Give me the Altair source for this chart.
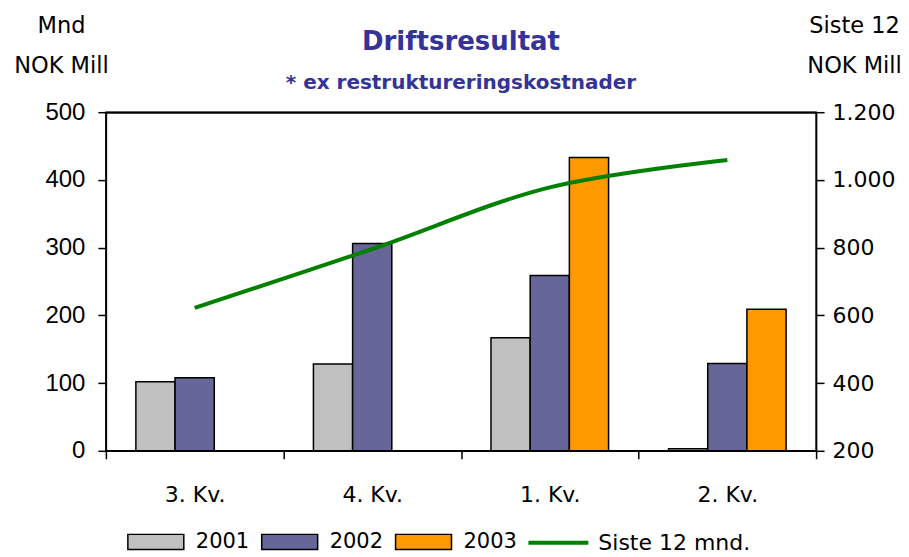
import altair as alt
import pandas as pd

quarters = ["3. Kv.", "4. Kv.", "1. Kv.", "2. Kv."]
years = ["2001", "2002", "2003"]
v2001 = [102, 128, 167, 3]
v2002 = [108, 306, 259, 129]
v2003 = [None, None, 433, 209]
siste12 = [622, 796, 978, 1059]
line_name = "Siste 12 mnd."
left_ticks = [0, 100, 200, 300, 400, 500]
right_ticks = [200, 400, 600, 800, 1000, 1200]
bar_colors = ["#C0C0C0", "#666699", "#FF9900"]
line_color = "#008000"
title_color = "#333399"
FONT = "DejaVu Sans"

rows = []
for yr, vals in zip(years, [v2001, v2002, v2003]):
    for q, v in zip(quarters, vals):
        if v is not None:
            rows.append({"Kvartal": q, "Aar": yr, "Verdi": v})
bars_df = pd.DataFrame(rows)
line_df = pd.DataFrame({"Kvartal": quarters, "Serie": [line_name] * len(quarters), "Verdi": siste12})

x_scale = alt.Scale(paddingInner=0, paddingOuter=0)

x_bottom = alt.X(
    "Kvartal:N",
    sort=quarters,
    scale=x_scale,
    axis=alt.Axis(
        title=None, labelAngle=0, tickBand="extent", tickSize=8, labelPadding=26,
        labelFont=FONT, labelFontSize=22, labelColor="black",
        domainColor="black", tickColor="black", domainWidth=1.5, tickWidth=1.5,
    ),
)

x_top = alt.X(
    "Kvartal:N",
    sort=quarters,
    scale=x_scale,
    axis=alt.Axis(
        orient="top", title=None, labels=False, ticks=False,
        domainColor="#000000", domainWidth=2, domainOpacity=1,
    ),
)

bars = alt.Chart(bars_df).mark_bar(stroke="black", strokeWidth=1.5, opacity=1).encode(
    x=x_bottom,
    xOffset=alt.XOffset("Aar:N", scale=alt.Scale(domain=years, paddingInner=0, paddingOuter=0.765)),
    y=alt.Y(
        "Verdi:Q",
        scale=alt.Scale(domain=[0, 500], nice=False),
        axis=alt.Axis(
            values=left_ticks, grid=False, title=["Mnd", "NOK Mill"], titleAngle=0,
            titleX=-45, titleY=-80, titleAlign="center", titleBaseline="alphabetic",
            titleLineHeight=40, titleFont=FONT, titleFontSize=22.5, titleFontWeight="normal",
            titleColor="black", labelFont="Liberation Sans", labelFontSize=24,
            labelColor="black", tickSize=8, labelPadding=13, domainColor="black",
            tickColor="black", domainWidth=1.5, tickWidth=1.5,
        ),
    ),
    fill=alt.Fill(
        "Aar:N",
        scale=alt.Scale(domain=years, range=bar_colors),
        legend=alt.Legend(
            title=None, orient="none", direction="horizontal", legendX=21, legendY=401,
            symbolType="M-1,-0.27H1V0.27H-1Z", symbolSize=3136, symbolStrokeColor="black",
            symbolStrokeWidth=1.5, symbolOpacity=1, labelFont=FONT, labelFontSize=21,
            labelColor="black", labelOffset=11, columnPadding=9, padding=0,
        ),
    ),
)

line = alt.Chart(line_df).mark_line(strokeWidth=4, interpolate="catmull-rom").encode(
    x=x_top,
    y=alt.Y(
        "Verdi:Q",
        scale=alt.Scale(domain=[200, 1200], nice=False, zero=False),
        axis=alt.Axis(
            orient="right", values=right_ticks, grid=False,
            labelExpr="replace(format(datum.value, ','), ',', '.')",
            title=["Siste 12", "NOK Mill"], titleAngle=0, titleX=38, titleY=-80,
            titleAlign="center", titleBaseline="alphabetic", titleLineHeight=40,
            titleFont=FONT, titleFontSize=22.5, titleFontWeight="normal", titleColor="black",
            labelFont=FONT, labelFontSize=22, labelColor="black", tickSize=8,
            labelPadding=8, domainColor="black", tickColor="black",
            domainWidth=1.5, tickWidth=1.5,
        ),
    ),
    stroke=alt.Stroke(
        "Serie:N",
        scale=alt.Scale(domain=[line_name], range=[line_color]),
        legend=alt.Legend(
            title=None, orient="none", direction="horizontal", legendX=421, legendY=399,
            symbolType="M-1,0H1", symbolSize=3600, symbolStrokeWidth=4,
            labelFont=FONT, labelFontSize=22, labelColor="black", labelOffset=8, padding=0,
        ),
    ),
)

chart = (
    alt.layer(bars, line)
    .resolve_scale(y="independent", fill="independent", stroke="independent")
    .resolve_axis(x="independent", y="independent")
    .properties(
        width=711,
        height=339,
        background="white",
        autosize=alt.AutoSizeParams(type="none"),
        padding={"left": 98, "top": 104, "right": 85, "bottom": 100},
        title=alt.TitleParams(
            text="Driftsresultat", subtitle="* ex restruktureringskostnader",
            font=FONT, fontSize=26, fontWeight="bold", color=title_color,
            subtitleFont=FONT, subtitleFontSize=20, subtitleFontWeight="bold",
            subtitleFontStyle="normal", subtitleColor=title_color, anchor="middle",
            offset=-79, subtitlePadding=18,
        ),
    )
    .configure_view(stroke="black", strokeWidth=1.5)
)

chart.save("out.html", embed_options={"renderer": "svg", "actions": False})
